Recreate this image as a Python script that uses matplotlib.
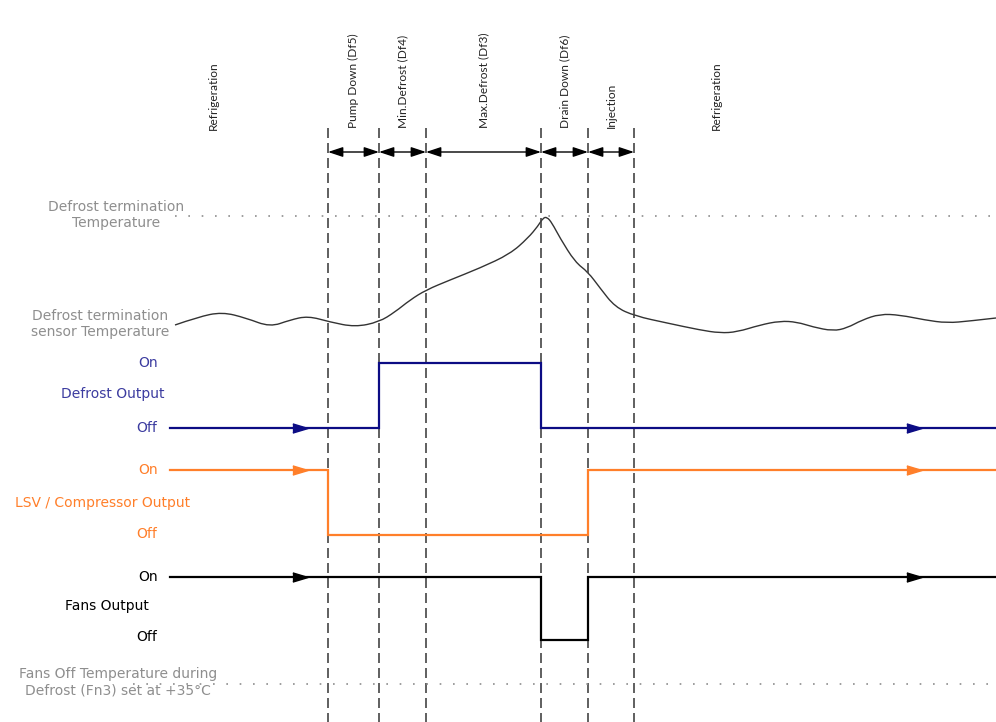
import matplotlib
matplotlib.use("Agg")
from matplotlib import pyplot as plt
from matplotlib.path import Path
from matplotlib.patches import PathPatch

# phase boundaries (px along the time axis) and phase labels
bounds = [328, 379, 426, 541, 588, 634]
phase_names = ["Pump Down (Df5)", "Min.Defrost (Df4)", "Max.Defrost (Df3)",
               "Drain Down (Df6)", "Injection"]
refrig_x = [213, 716]

# defrost termination sensor temperature curve
temp_x = [175, 198, 222, 246, 270, 290, 308, 330, 355, 379, 395, 410, 426, 450,
          480, 510, 528, 538, 543, 547, 552, 560, 575, 588, 600, 615, 635, 667, 700,
          720, 737, 760, 780, 797, 813, 833, 847, 862, 880, 900, 925, 947, 970, 996]
temp_y = [325, 317, 312, 318, 327, 320, 316, 322, 327, 322, 312, 300, 290, 280,
          268, 254, 238, 226, 218, 217, 223, 238, 262, 272, 288, 307, 316, 323, 330,
          333, 332, 325, 321, 322, 327, 331, 328, 320, 314, 315, 320, 323, 321, 318]

# digital outputs: switching times and levels
defrost_t = [170, 379, 379, 541, 541, 996]
defrost_lv = [428, 428, 363, 363, 428, 428]
lsv_t = [170, 328, 328, 588, 588, 996]
lsv_lv = [470, 470, 535, 535, 470, 470]
fans_t = [170, 541, 541, 588, 588, 996]
fans_lv = [577, 577, 640, 640, 577, 577]

GREY = "#8e8e8e"
NAVY = "#0c0c84"
BLUE_TXT = "#3c3ca0"
ORANGE = "#ff7f2a"

fig = plt.figure(figsize=(9.96, 7.22), dpi=100)
ax = fig.add_axes([0, 0, 1, 1])
ax.set_xlim(0, 996)
ax.set_ylim(722, 0)
ax.axis("off")

# vertical dashed boundaries
for b in bounds:
    ax.plot([b, b], [128, 722], color="#444444", lw=1.2, dashes=(6, 3))

# double arrows between boundaries
for a, b in zip(bounds[:-1], bounds[1:]):
    ax.annotate("", xy=(b, 152), xytext=(a, 152),
                arrowprops=dict(arrowstyle="<|-|>,head_length=0.9,head_width=0.3",
                                color="black", lw=1, shrinkA=0, shrinkB=0))

# phase labels
lab_kw = dict(rotation=90, ha="center", va="bottom", fontsize=8.6,
              family="Lato", color="#222222")
for a, b, name in zip(bounds[:-1], bounds[1:], phase_names):
    ax.text((a + b) / 2, 128, name, **lab_kw)
for x in refrig_x:
    ax.text(x, 130, "Refrigeration", **lab_kw)

# temperature reference lines
ax.plot([175, 996], [216, 216], color=GREY, lw=1.2, dashes=(1, 7))
ax.plot([133, 996], [684, 684], color=GREY, lw=1.2, dashes=(1, 7))
ax.text(116, 215, "Defrost termination\nTemperature", ha="center", va="center",
        fontsize=10, color=GREY, linespacing=1.25)
ax.text(100, 324, "Defrost termination\nsensor Temperature", ha="center", va="center",
        fontsize=10, color=GREY, linespacing=1.25)
ax.text(118, 682, "Fans Off Temperature during\nDefrost (Fn3) set at +35\u00b0C",
        ha="center", va="center", fontsize=10, color=GREY, linespacing=1.25)

# sensor curve: smooth quadratic pieces through the read points
pts = list(zip(temp_x, temp_y))
verts = [pts[0]]
codes = [Path.MOVETO]
for i in range(1, len(pts) - 1):
    mid = ((pts[i][0] + pts[i + 1][0]) / 2, (pts[i][1] + pts[i + 1][1]) / 2)
    if i == len(pts) - 2:
        mid = pts[-1]
    verts += [pts[i], mid]
    codes += [Path.CURVE3, Path.CURVE3]
ax.add_patch(PathPatch(Path(verts, codes), facecolor="none",
                       edgecolor="#333333", lw=1.0))

# outputs
arrow = [(-1, -0.6), (1, 0), (-1, 0.6)]
for t, lv, col in [(defrost_t, defrost_lv, NAVY), (lsv_t, lsv_lv, ORANGE),
                   (fans_t, fans_lv, "black")]:
    ax.plot(t, lv, color=col, lw=1.6, solid_joinstyle="miter")
    ax.plot([300, 914], [lv[0], lv[-1]], ls="none", marker=arrow,
            markersize=11, color=col)

# output labels
ax.text(148, 363, "On", ha="center", va="center", fontsize=10, color=BLUE_TXT)
ax.text(113, 394, "Defrost Output", ha="center", va="center", fontsize=10, color=BLUE_TXT)
ax.text(147, 428, "Off", ha="center", va="center", fontsize=10, color=BLUE_TXT)
ax.text(148, 470, "On", ha="center", va="center", fontsize=10, color=ORANGE)
ax.text(103, 503, "LSV / Compressor Output", ha="center", va="center", fontsize=10, color=ORANGE)
ax.text(147, 534, "Off", ha="center", va="center", fontsize=10, color=ORANGE)
ax.text(148, 577, "On", ha="center", va="center", fontsize=10, color="black")
ax.text(107, 606, "Fans Output", ha="center", va="center", fontsize=10, color="black")
ax.text(147, 637, "Off", ha="center", va="center", fontsize=10, color="black")

plt.savefig("out.png", dpi=100)
